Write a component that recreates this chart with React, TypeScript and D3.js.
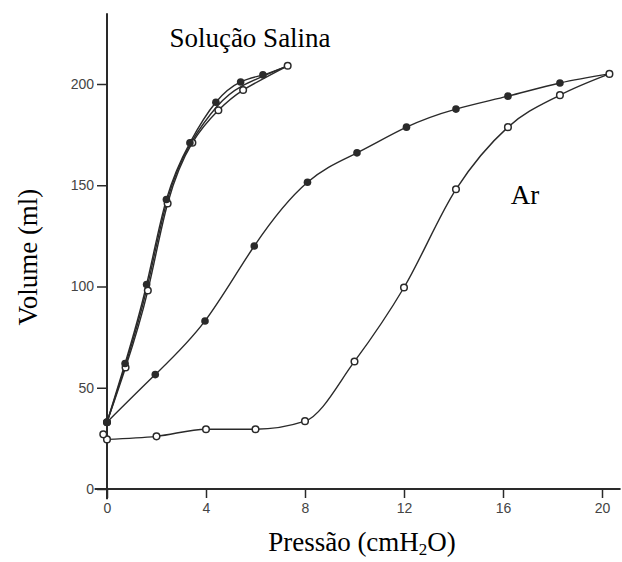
import React, { useEffect, useRef } from "react";
import * as d3 from "d3";

// pressure (cmH2O) / volume (ml)
const salineDeflation: [number, number][] = [
  [0, 33], [0.73, 62], [1.6, 101], [2.4, 143], [3.35, 171], [4.4, 191], [5.4, 201], [6.3, 204.5], [7.3, 209],
];
const salineInflation: [number, number][] = [
  [0, 33], [0.75, 60], [1.65, 98], [2.45, 141], [3.45, 171], [4.5, 187], [5.5, 197], [7.3, 209],
];
const salineMiddle: [number, number][] = [
  [0, 33], [0.74, 61], [1.62, 99.5], [2.42, 142], [3.4, 171], [4.45, 189], [5.45, 199], [7.3, 209],
];
const airDeflation: [number, number][] = [
  [0, 33], [1.95, 56.5], [3.96, 83], [5.95, 120], [8.1, 151.5], [10.1, 166], [12.1, 178.7], [14.1, 187.6], [16.2, 194], [18.3, 200.5], [20.3, 205],
];
const airInflation: [number, number][] = [
  [0, 24.5], [2, 26], [4, 29.5], [6, 29.5], [8, 33.5], [10, 63], [12, 99.5], [14.1, 148], [16.2, 178.7], [18.3, 194.5], [20.3, 205],
];
const airExtraOpen: [number, number][] = [[-0.15, 27]];

const xTicks = [0, 4, 8, 12, 16, 20];
const yTicks = [0, 50, 100, 150, 200];

const App = () => {
  const ref = useRef<SVGSVGElement>(null);

  useEffect(() => {
    const svg = d3.select(ref.current);
    svg.selectAll("*").remove();

    const x = d3.scaleLinear().domain([0, 20]).range([107, 602]);
    const y = d3.scaleLinear().domain([0, 200]).range([489, 84]);
    const ink = "#2a2a2a";

    // axis lines
    svg.append("line")
      .attr("x1", x(0)).attr("x2", x(0))
      .attr("y1", y(235)).attr("y2", y(-5))
      .attr("stroke", ink).attr("stroke-width", 2);
    svg.append("line")
      .attr("x1", x(-0.5)).attr("x2", x(20.75))
      .attr("y1", y(0)).attr("y2", y(0))
      .attr("stroke", ink).attr("stroke-width", 2);

    const yAxis = svg.append("g")
      .attr("transform", `translate(${x(0)},0)`)
      .call(d3.axisLeft(y).tickValues(yTicks).tickSize(10).tickPadding(3));
    yAxis.select(".domain").remove();

    const xAxis = svg.append("g")
      .attr("transform", `translate(0,${y(0)})`)
      .call(d3.axisBottom(x).tickValues(xTicks).tickSize(9).tickPadding(5));
    xAxis.select(".domain").remove();

    svg.selectAll(".tick line").attr("stroke", ink).attr("stroke-width", 1.5);
    svg.selectAll(".tick text")
      .attr("fill", "#444")
      .style("font-family", "'Liberation Sans', Arial, sans-serif")
      .style("font-size", "14px");

    const smooth = d3.line<[number, number]>()
      .x((d) => x(d[0]))
      .y((d) => y(d[1]))
      .curve(d3.curveNatural);
    const monotone = d3.line<[number, number]>()
      .x((d) => x(d[0]))
      .y((d) => y(d[1]))
      .curve(d3.curveMonotoneX);

    [salineDeflation, salineMiddle, salineInflation, airDeflation].forEach((s) => {
      svg.append("path")
        .attr("d", smooth(s))
        .attr("fill", "none")
        .attr("stroke", ink)
        .attr("stroke-width", 1.4);
    });
    svg.append("path")
      .attr("d", monotone(airInflation))
      .attr("fill", "none")
      .attr("stroke", ink)
      .attr("stroke-width", 1.4);

    const filled = [...salineDeflation.slice(0, -1), ...airDeflation.slice(0, -1)];
    const open = [...salineInflation, ...airInflation, ...airExtraOpen];

    svg.append("g").selectAll("circle")
      .data(open)
      .join("circle")
      .attr("cx", (d) => x(d[0]))
      .attr("cy", (d) => y(d[1]))
      .attr("r", 3.3)
      .attr("fill", "#fff")
      .attr("stroke", ink)
      .attr("stroke-width", 1.5);

    svg.append("g").selectAll("circle")
      .data(filled)
      .join("circle")
      .attr("cx", (d) => x(d[0]))
      .attr("cy", (d) => y(d[1]))
      .attr("r", 3.8)
      .attr("fill", ink);

    const serif = "'Liberation Serif', 'Times New Roman', serif";

    svg.append("text")
      .attr("x", 250).attr("y", 47)
      .attr("text-anchor", "middle")
      .style("font-family", serif).style("font-size", "27px")
      .text("Solução Salina");

    svg.append("text")
      .attr("x", 525).attr("y", 204)
      .attr("text-anchor", "middle")
      .style("font-family", serif).style("font-size", "27px")
      .text("Ar");

    const px = svg.append("text")
      .attr("x", 362).attr("y", 551)
      .attr("text-anchor", "middle")
      .style("font-family", serif).style("font-size", "27px");
    px.append("tspan").text("Pressão (cmH");
    px.append("tspan").attr("dy", 4).style("font-size", "17px").text("2");
    px.append("tspan").attr("dy", -4).text("O)");

    svg.append("text")
      .attr("transform", `translate(37,257) rotate(-90)`)
      .attr("text-anchor", "middle")
      .style("font-family", serif).style("font-size", "27px")
      .text("Volume (ml)");
  }, []);

  return (
    <div style={{ position: "absolute", left: 0, top: 0 }}>
      <svg ref={ref} width={622} height={562} style={{ display: "block", background: "#fff" }} />
    </div>
  );
};

export default App;
